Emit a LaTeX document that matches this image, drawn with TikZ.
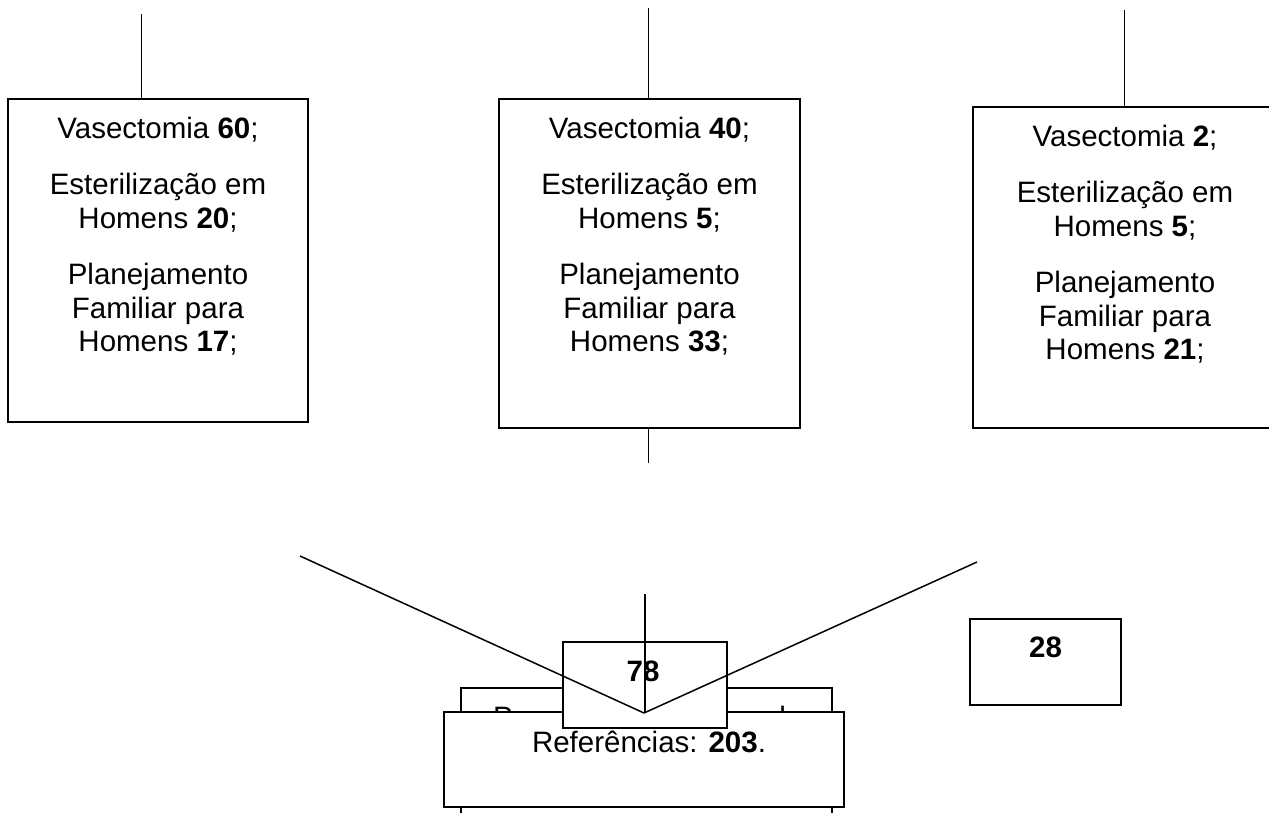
\documentclass[tikz,border=0pt]{standalone}
\usepackage{fontspec}
\setmainfont{Liberation Sans}
\usetikzlibrary{positioning}

\begin{document}
\begin{tikzpicture}[
    x=1pt, y=-1pt,
    box/.style={rectangle, draw, line width=1.5pt, fill=white, inner sep=0pt},
    txt/.style={align=center, inner sep=0pt, font=\fontsize{29.5}{33.8}\selectfont},
    stub/.style={line width=1pt},
    wire/.style={line width=1.5pt}
]

\clip (0,0) rectangle (1269,812);

% Top boxes
\node[box, minimum width=300pt, minimum height=323pt] (vas60) at (158,260.5) {};
\node[txt, below=19pt of vas60.north] (vas60txt) {Vasectomia \textbf{60};\\[22pt] Esterilização em\\ Homens \textbf{20};\\[22pt] Planejamento\\ Familiar para\\ Homens \textbf{17};};

\node[box, minimum width=301pt, minimum height=329pt] (vas40) at (649.5,263.5) {};
\node[txt, below=19pt of vas40.north] (vas40txt) {Vasectomia \textbf{40};\\[22pt] Esterilização em\\ Homens \textbf{5};\\[22pt] Planejamento\\ Familiar para\\ Homens \textbf{33};};

\node[box, minimum width=310pt, minimum height=321pt] (vas2) at (1128,267.5) {};
\node[txt, below=19pt of vas2.north, xshift=-3pt] (vas2txt) {Vasectomia \textbf{2};\\[22pt] Esterilização em\\ Homens \textbf{5};\\[22pt] Planejamento\\ Familiar para\\ Homens \textbf{21};};

% Stubs
\coordinate (vas60top) at (141,14);
\coordinate (vas40top) at (648,8);
\coordinate (vas40bot) at (648,463);
\coordinate (vas2top) at (1124,10);
\draw[stub] (vas60top) -- (vas60top |- vas60.north);
\draw[stub] (vas40top) -- (vas40top |- vas40.north);
\draw[stub] (vas40bot |- vas40.south) -- (vas40bot);
\draw[stub] (vas2top) -- (vas2top |- vas2.north);

% Reference boxes
\node[box, minimum width=371pt, minimum height=142pt] (refsback) at (646.5,759) {};
\node[txt, below=19pt of refsback.north, xshift=-7pt] (refsbacktxt) {\makebox[293pt]{P\hfill l}};

\node[box, minimum width=400pt, minimum height=95pt] (refs) at (644,759.5) {};
\node[txt, below=20pt of refs.north, xshift=5pt] (refstxt) {Referências: \textbf{203}.};

% Totals
\node[box, minimum width=164pt, minimum height=86pt] (tot78) at (645,685) {};
\node[txt, below=19pt of tot78.north, xshift=-2pt] (tot78txt) {\textbf{78}};

\node[box, minimum width=151pt, minimum height=86pt] (tot28) at (1045.5,662) {};
\node[txt, below=18pt of tot28.north] (tot28txt) {\textbf{28}};

% Lines into 78
\coordinate (tip) at (644,713);
\coordinate (fromleft) at (300,556);
\coordinate (fromright) at (977,562);
\coordinate (frommid) at (645,594);
\draw[wire] (fromleft) -- (tip);
\draw[wire] (fromright) -- (tip);
\draw[wire] (frommid) -- (frommid |- tip);

\end{tikzpicture}
\end{document}
